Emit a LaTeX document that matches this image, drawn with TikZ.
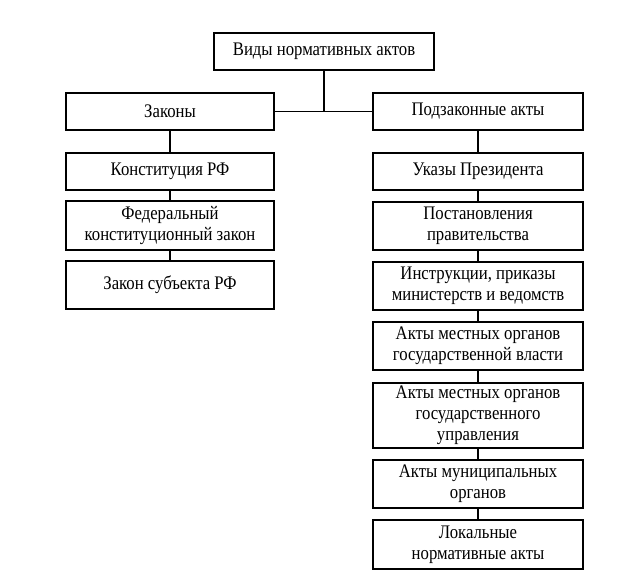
\documentclass[tikz,border=0pt]{standalone}
\usepackage{fontspec}
\setmainfont{Liberation Serif}[FakeStretch=0.87]
\begin{document}
\begin{tikzpicture}[x=1pt,y=-1pt,
  box/.style={draw, line width=1.2pt, inner sep=0pt, align=center,
    font=\fontsize{19.2}{20.8}\selectfont},
  lw/.style={minimum width=208pt},
  rw/.style={minimum width=210pt},
  link/.style={line width=1.2pt}]
\useasboundingbox (0,0) rectangle (631,578);
\node[box, minimum width=220pt, minimum height=37pt] (top) at (324,51.5) {Виды нормативных актов};
% left column
\node[box, lw, minimum height=37pt] (L1) at (170,111.5) {Законы};
\node[box, lw, minimum height=37pt] (L2) at (170,171.5) {Конституция РФ};
\node[box, lw, minimum height=49pt] (L3) at (170,225.5) {Федеральный\\конституционный закон};
\node[box, lw, minimum height=48pt] (L4) at (170,285) {Закон субъекта РФ};
% right column
\node[box, rw, minimum height=37pt] (R1) at (478,111.5) {Подзаконные акты};
\node[box, rw, minimum height=37pt] (R2) at (478,171.5) {Указы Президента};
\node[box, rw, minimum height=48pt] (R3) at (478,226) {Постановления\\правительства};
\node[box, rw, minimum height=48pt] (R4) at (478,286) {Инструкции, приказы\\министерств и ведомств};
\node[box, rw, minimum height=48pt] (R5) at (478,346) {Акты местных органов\\государственной власти};
\node[box, rw, minimum height=65pt] (R6) at (478,415.5) {Акты местных органов\\государственного\\управления};
\node[box, rw, minimum height=48pt] (R7) at (478,484) {Акты муниципальных\\органов};
\node[box, rw, minimum height=49pt] (R8) at (478,544.5) {Локальные\\нормативные акты};
% connectors
\coordinate (J) at (top.south |- L1.east);
\draw[link] (top.south) -- (J);
\draw[link] (L1.east) -- (R1.west);
\draw[link] (L1) -- (L2);
\draw[link] (L2) -- (L3);
\draw[link] (L3) -- (L4);
\draw[link] (R1) -- (R2);
\draw[link] (R2) -- (R3);
\draw[link] (R3) -- (R4);
\draw[link] (R4) -- (R5);
\draw[link] (R5) -- (R6);
\draw[link] (R6) -- (R7);
\draw[link] (R7) -- (R8);
\end{tikzpicture}
\end{document}
